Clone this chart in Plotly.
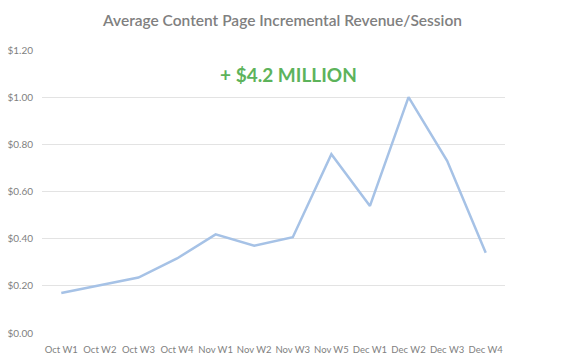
import plotly.graph_objects as go

categories = ["Oct W1", "Oct W2", "Oct W3", "Oct W4", "Nov W1", "Nov W2",
              "Nov W3", "Nov W5", "Dec W1", "Dec W2", "Dec W3", "Dec W4"]
revenue = [0.17, 0.202, 0.235, 0.316, 0.418, 0.370,
           0.406, 0.758, 0.539, 1.00, 0.730, 0.340]
y_ticks = [0, 0.2, 0.4, 0.6, 0.8, 1.0, 1.2]
y_labels = ["$0.00", "$0.20", "$0.40", "$0.60", "$0.80", "$1.00", "$1.20"]
title_text = "Average Content Page Incremental Revenue/Session"
note_text = "+ $4.2 MILLION"

fig = go.Figure()
fig.add_trace(go.Scatter(
    x=categories, y=revenue, mode="lines",
    line=dict(color="#A6C2E6", width=2.5),
    hoverinfo="x+y",
))

fig.update_layout(
    width=565, height=363,
    margin=dict(l=42, r=60, t=50, b=30, autoexpand=False),
    paper_bgcolor="white", plot_bgcolor="white",
    showlegend=False,
    font=dict(family="Lato, Open Sans, sans-serif", color="#7F7F7F", size=9.5),
    title=dict(text=title_text, x=0.5, xanchor="center", y=0.942, yanchor="middle",
               font=dict(family="Lato, Open Sans, sans-serif", size=15.5, color="#808080", weight=600)),
    xaxis=dict(type="category", showgrid=False, showline=False, zeroline=False,
               ticks="", tickangle=0, automargin=False, ticklabelstandoff=9,
               tickfont=dict(size=9.5, color="#7F7F7F"), range=[-0.5, 11.5]),
    yaxis=dict(range=[0, 1.2], tickvals=y_ticks, ticktext=y_labels, automargin=False,
               showgrid=True, gridcolor="#E3E3E3", gridwidth=1, zeroline=False,
               showline=False, ticks="", ticklen=0, ticklabelstandoff=8,
               tickfont=dict(size=10, color="#7F7F7F")),
    annotations=[dict(text=note_text, xref="paper", yref="paper", x=0.533, y=0.915,
                      xanchor="center", yanchor="middle", showarrow=False,
                      font=dict(family="Lato, Open Sans, sans-serif", size=19,
                                color="#5DB35B", weight="bold"))],
)

fig.write_html("out.html", config={"displayModeBar": False},
               post_script="document.body.style.margin='0';document.body.style.overflow='hidden';")
